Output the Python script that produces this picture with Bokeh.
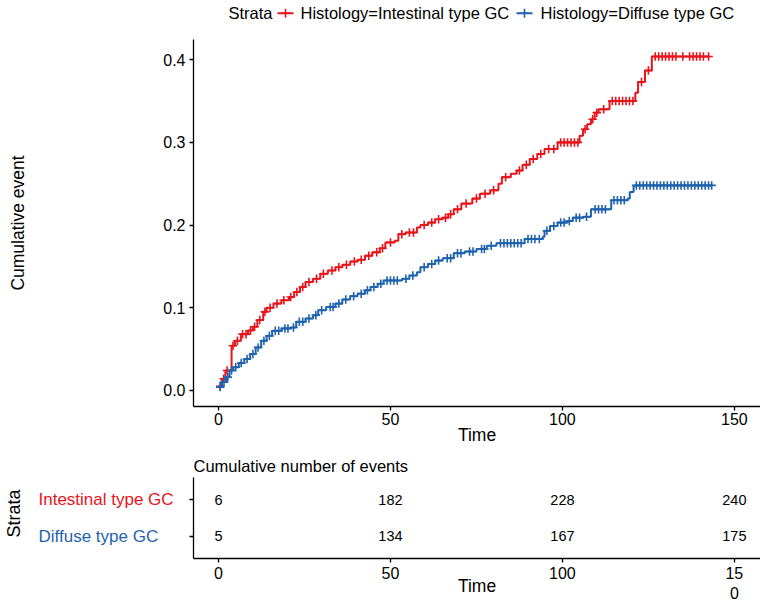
import numpy as np
from bokeh.plotting import figure
from bokeh.models import Range1d, FixedTicker, ColumnDataSource, NumeralTickFormatter
from bokeh.layouts import column, row
from bokeh.embed import file_html
from bokeh.resources import INLINE
from bokeh.core.properties import value

# ---------------- data ----------------
legend_title = "Strata"
strata = ["Histology=Intestinal type GC", "Histology=Diffuse type GC"]
row_labels = ["Intestinal type GC", "Diffuse type GC"]

int_time = [0, 1, 2, 3.8, 4.8, 6.5, 8.6, 10, 11.3, 13, 14, 16, 18.3, 20.5, 22, 23.7, 25.3, 27.5,
            29.6, 31.8, 34, 36, 38.3, 40.4, 42.6, 44.7, 46.9, 48.5, 51.2, 52.3, 54.4, 57.7, 58.7,
            60.9, 63, 65.2, 66.8, 68.4, 70.6, 73.8, 76, 79, 81.4, 82.4, 85, 86.7, 88.4, 90.5,
            92.7, 94.8, 98.6, 105, 106, 107.2, 108.3, 109.4, 110.5, 113.7, 121.2, 122, 124, 126,
            142.8]
int_cum = [0.005, 0.014, 0.024, 0.054, 0.060, 0.068, 0.0725, 0.077, 0.085, 0.095, 0.100, 0.105,
           0.109, 0.113, 0.119, 0.125, 0.131, 0.135, 0.141, 0.145, 0.149, 0.152, 0.156, 0.158,
           0.163, 0.167, 0.172, 0.179, 0.181, 0.189, 0.191, 0.197, 0.200, 0.203, 0.207, 0.209,
           0.213, 0.219, 0.226, 0.232, 0.238, 0.242, 0.250, 0.258, 0.262, 0.266, 0.273, 0.280,
           0.286, 0.292, 0.300, 0.308, 0.316, 0.322, 0.328, 0.336, 0.340, 0.350, 0.360, 0.373,
           0.387, 0.404, 0.404]
int_censor = [0.5, 1.5, 2.5, 4.2, 5.5, 7.0, 8.0, 9.3, 10.5, 12.0, 13.5, 15.0, 17.0, 19.0, 21.0,
              22.8, 24.5, 26.3, 28.5, 30.5, 33.0, 35.0, 37.2, 39.5, 41.5, 43.7, 46.0, 47.7, 50.0,
              53.3, 55.5, 56.7, 59.8, 62.0, 64.0, 66.0, 67.5, 69.5, 72.0, 75.0, 77.5, 80.0, 83.5,
              87.5, 89.5, 91.5, 93.7, 96.0, 97.5, 99.5, 100.5, 101.5, 102.5, 103.5, 104.5, 106.6,
              108.8, 110.0, 112.0, 114.5, 115.5, 116.5, 117.5, 118.5, 119.5, 120.5, 123.0, 125.0,
              127.0, 128.0, 129.0, 130.0, 131.0, 132.0, 133.0, 135.0, 137.0, 138.0, 139.0, 140.0,
              141.0, 142.5]

dif_time = [0, 1, 2.2, 3.2, 4.3, 5.9, 7.5, 9.2, 10.8, 12.4, 14, 15.6, 18.3, 21, 22.6, 25.3, 27.5,
            29, 31.3, 34, 36, 38.3, 40.4, 42.6, 44.2, 46.3, 48, 53.4, 55.5, 57.7, 58.7, 60.9, 63,
            65.2, 68.4, 71.6, 75, 78, 80.8, 89, 94.3, 94.8, 96.4, 98.6, 101.3, 103, 106, 108.3,
            114.2, 119, 119.6, 120.7, 143.4]
dif_cum = [0.004, 0.010, 0.016, 0.024, 0.028, 0.033, 0.038, 0.044, 0.052, 0.060, 0.066, 0.072,
           0.075, 0.076, 0.083, 0.087, 0.091, 0.097, 0.101, 0.105, 0.110, 0.114, 0.117, 0.121,
           0.125, 0.129, 0.133, 0.135, 0.139, 0.143, 0.149, 0.153, 0.157, 0.160, 0.166, 0.168,
           0.171, 0.175, 0.178, 0.183, 0.186, 0.193, 0.199, 0.203, 0.205, 0.209, 0.210, 0.219,
           0.230, 0.232, 0.240, 0.248, 0.248]
dif_censor = [0.5, 1.6, 2.7, 3.8, 5.0, 6.6, 8.3, 10.0, 11.5, 13.2, 14.8, 16.5, 17.5, 19.3, 20.2,
              21.8, 23.5, 24.5, 26.3, 28.3, 30.0, 32.5, 33.3, 35.0, 37.0, 39.3, 41.5, 43.3, 45.2,
              47.2, 49.0, 50.0, 51.0, 52.0, 54.5, 56.5, 59.8, 62.0, 64.0, 66.5, 67.5, 69.5, 70.5,
              73.0, 74.0, 76.5, 77.3, 79.3, 82.0, 83.0, 84.0, 85.0, 86.0, 87.0, 88.0, 90.0, 91.0,
              92.0, 93.3, 95.5, 97.5, 99.5, 100.5, 102.0, 104.0, 105.0, 107.0, 109.5, 110.5,
              111.5, 112.5, 115.0, 116.0, 117.0, 118.0, 121.5, 122.5, 123.5, 124.5, 125.5, 126.5,
              127.5, 128.5, 129.5, 130.5, 131.5, 132.5, 133.5, 134.5, 135.5, 136.5, 137.5, 138.5,
              139.5, 140.5, 141.5, 142.5, 143.4]

table_times = [0, 50, 100, 150]
int_events = [6, 182, 228, 240]
dif_events = [5, 134, 167, 175]

RED = "#E8141B"
BLUE = "#1F63AE"
FONT = "Liberation Sans"
X_RANGE = (-7.27, 157.6)
W = 760
FRAME_LEFT = 193


def step_at(times, cums, c):
    t = np.asarray(times)
    y = np.asarray(cums)
    idx = np.searchsorted(t, np.asarray(c), side="right") - 1
    return y[np.clip(idx, 0, len(y) - 1)]


def style_axis(ax):
    ax.axis_line_color = "black"
    ax.axis_line_width = 1.3
    ax.major_tick_line_color = "black"
    ax.major_tick_line_width = 1.3
    ax.major_tick_out = 4
    ax.major_tick_in = 0
    ax.minor_tick_line_color = None
    ax.major_label_text_font = FONT
    ax.major_label_text_font_size = "16px"
    ax.major_label_text_color = "black"
    ax.axis_label_text_font = FONT
    ax.axis_label_text_font_size = "17.5px"
    ax.axis_label_text_font_style = "normal"
    ax.axis_label_text_color = "black"


def bare(fig):
    fig.outline_line_color = None
    fig.grid.visible = False
    fig.axis.visible = False


# ---------------- legend strip (page-pixel units; its frame aligns with the plot frame) ----
LH = 39
leg = figure(width=W, height=LH, output_backend="svg", toolbar_location=None,
             x_range=Range1d(FRAME_LEFT, W), y_range=Range1d(0, LH),
             min_border_left=FRAME_LEFT, min_border_right=0, min_border_top=0, min_border_bottom=0)
bare(leg)
ly = LH - 12.7
leg.text(x=[228], y=[ly], text=[legend_title], text_font=value(FONT), text_font_size="16.5px",
         text_align="left", text_baseline="middle", text_color="black")
for kx, tx, name, col in [(285, 300, strata[0], RED), (524, 540, strata[1], BLUE)]:
    leg.segment(x0=[kx - 8], y0=[ly], x1=[kx + 8], y1=[ly], line_color=col, line_width=2)
    leg.scatter(x=[kx], y=[ly], marker="cross", size=9, line_color=col, line_width=1.6)
    leg.text(x=[tx], y=[ly], text=[name], text_font=value(FONT), text_font_size="16.5px",
             text_align="left", text_baseline="middle", text_color="black")

# ---------------- main plot ----------------
p = figure(width=W, height=450 - LH, output_backend="svg", toolbar_location=None,
           x_range=Range1d(*X_RANGE), y_range=Range1d(-0.0195, 0.4245),
           min_border_left=FRAME_LEFT, min_border_right=0, min_border_top=0, min_border_bottom=44)
p.outline_line_color = None
p.grid.visible = False

for t, y, c, col in [(int_time, int_cum, int_censor, RED), (dif_time, dif_cum, dif_censor, BLUE)]:
    p.step(t, y, mode="after", line_color=col, line_width=2)
    p.scatter(c, step_at(t, y, c), marker="cross", size=8.5, line_color=col, line_width=1.6)

p.xaxis.ticker = FixedTicker(ticks=[0, 50, 100, 150])
p.yaxis.ticker = FixedTicker(ticks=[0, 0.1, 0.2, 0.3, 0.4])
p.yaxis.formatter = NumeralTickFormatter(format="0.0")
p.xaxis.axis_label = "Time"
p.yaxis.axis_label = "Cumulative event"
style_axis(p.xaxis)
style_axis(p.yaxis)
p.xaxis.major_label_standoff = 2
p.xaxis.axis_label_standoff = -3
p.yaxis.major_label_standoff = 4
p.yaxis.axis_label_standoff = 132

# ---------------- risk table ----------------
TOP, BOT, H = 27, 46, 154
q = figure(width=W - 181, height=H, output_backend="svg", toolbar_location=None,
           x_range=Range1d(*X_RANGE), y_range=Range1d(0.4, 2.6),
           min_border_left=12, min_border_right=0, min_border_top=TOP, min_border_bottom=BOT,
           title="Cumulative number of events")
q.outline_line_color = None
q.grid.visible = False
q.title.text_font = FONT
q.title.text_font_size = "16.5px"
q.title.text_font_style = "normal"
q.title.text_color = "black"
q.title.align = "left"
q.title.standoff = 5

src = ColumnDataSource(dict(x=table_times + table_times,
                            y=[2] * len(table_times) + [1] * len(table_times),
                            t=[str(v) for v in int_events + dif_events]))
q.text(x="x", y="y", text="t", source=src, text_font=value(FONT), text_font_size="14.5px",
       text_align="center", text_baseline="middle", text_color="black")

q.xaxis.ticker = FixedTicker(ticks=[0, 50, 100, 150])
q.xaxis.major_label_overrides = {150: "15\n0"}
q.yaxis.ticker = FixedTicker(ticks=[1, 2])
q.yaxis.major_label_overrides = {1: "", 2: ""}
style_axis(q.xaxis)
style_axis(q.yaxis)
q.xaxis.major_label_standoff = 2
q.yaxis.major_label_standoff = 0
q.xaxis.axis_label = "Time"
q.xaxis.axis_label_standoff = -29

# left strip holding the coloured strata names
s = figure(width=181, height=H, output_backend="svg", toolbar_location=None,
           x_range=Range1d(0, 181), y_range=q.y_range,
           min_border_left=0, min_border_right=0, min_border_top=TOP, min_border_bottom=BOT)
bare(s)
lab_src = ColumnDataSource(dict(x=[38, 38], y=[2, 1], t=row_labels, c=[RED, BLUE]))
s.text(x="x", y="y", text="t", text_color="c", source=lab_src, text_font=value(FONT),
       text_font_size="17px", text_align="left", text_baseline="middle")
s.text(x=[13], y=[1.62], text=[legend_title], angle=np.pi / 2, text_font=value(FONT),
       text_font_size="18px", text_align="center", text_baseline="middle", text_color="black")

layout = column(leg, p, row(s, q, spacing=0), spacing=0)
open("out.html", "w").write(file_html(layout, INLINE))
